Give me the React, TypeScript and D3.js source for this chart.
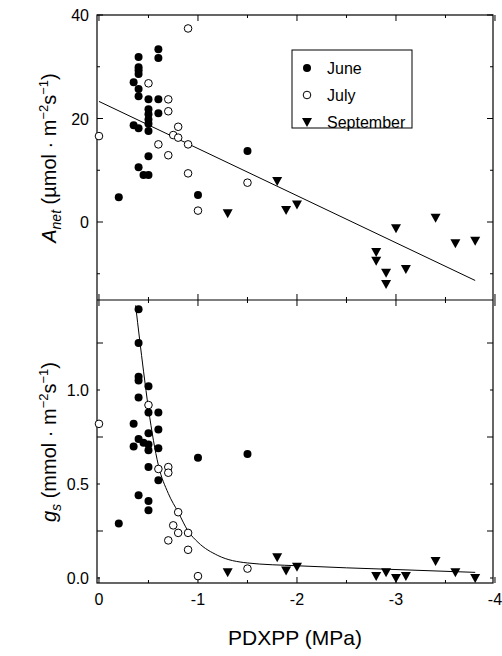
import React from "react";
import * as d3 from "d3";

// PDXPP (MPa), A_net, g_s per month
const juneX = [-0.4, -0.4, -0.4, -0.4, -0.35, -0.4, -0.4, -0.6, -0.6, -0.5, -0.6, -0.6, -0.5, -0.5, -0.5, -0.5, -0.35, -0.4, -0.5, -0.5, -0.4, -0.45, -0.5, -0.2, -1.0, -1.5];
const juneA = [31.9, 29.9, 29.3, 28.6, 27, 25.7, 24.3, 33.4, 31.7, 23.7, 23.7, 21, 21.8, 20.8, 19.8, 19, 18.7, 18.1, 17.6, 12.7, 10.6, 9.1, 9.1, 4.8, 5.2, 13.7];
const juneGx = [-0.4, -0.4, -0.4, -0.4, -0.5, -0.4, -0.5, -0.6, -0.35, -0.6, -0.5, -0.4, -0.45, -0.5, -0.35, -0.5, -0.6, -0.5, -0.6, -0.4, -0.5, -0.5, -0.2, -1.0, -1.5];
const juneG = [1.43, 1.25, 1.07, 1.05, 1.02, 0.96, 0.88, 0.88, 0.82, 0.79, 0.77, 0.74, 0.72, 0.71, 0.7, 0.68, 0.69, 0.59, 0.52, 0.44, 0.41, 0.36, 0.29, 0.64, 0.66];
const julyX = [-0.9, -0.5, -0.7, -0.7, -0.8, -0.75, -0.8, -0.9, -0.6, -0.7, 0, -0.9, -1.5, -1.0];
const julyA = [37.4, 26.8, 23.7, 21.4, 18.4, 16.8, 16.3, 15, 15, 12.9, 16.6, 9.4, 7.6, 2.2];
const julyGx = [0, -0.5, -0.7, -0.7, -0.6, -0.8, -0.75, -0.8, -0.9, -0.7, -0.9, -1.0, -1.5];
const julyG = [0.82, 0.92, 0.59, 0.56, 0.58, 0.35, 0.28, 0.24, 0.24, 0.2, 0.15, 0.01, 0.05];
const septX = [-1.3, -1.8, -1.89, -2.0, -3.0, -3.4, -3.6, -3.8, -2.8, -2.8, -2.9, -2.9, -3.1];
const septA = [1.7, 7.9, 2.3, 3.4, -1.2, 0.8, -4.1, -3.6, -5.8, -7.5, -9.8, -12, -9.1];
const septGx = [-1.3, -1.8, -1.89, -2.0, -2.8, -2.9, -3.0, -3.1, -3.4, -3.6, -3.8];
const septG = [0.03, 0.11, 0.04, 0.06, 0.01, 0.03, 0.0, 0.01, 0.09, 0.03, 0.0];
// fitted curves
const lineX = [0.0, -3.8];
const lineA = [23.3, -11.3];
const curveX = [-0.37, -0.45, -0.5, -0.6, -0.7, -0.8, -0.9, -1.0, -1.2, -1.5, -2.0, -3.0, -3.8];
const curveG = [1.45, 1.1, 0.9, 0.6, 0.45, 0.35, 0.25, 0.19, 0.12, 0.08, 0.065, 0.045, 0.03];

const L = 97, R = 493, T1 = 15, B1 = 300, B2 = 583;
const font = "Arial, 'Liberation Sans', sans-serif";

export default function App() {
  const x = d3.scaleLinear().domain([0.02, -3.98]).range([L, R]);
  const yA = d3.scaleLinear().domain([0, 40]).range([222, 15]);
  const yG = d3.scaleLinear().domain([0, 1]).range([578, 390]);
  const xt = d3.range(0, -4.01, -0.5);
  const filled = (xs, ys, y) => xs.map((v, i) => <circle key={i} cx={x(v)} cy={y(ys[i])} r={4} fill="#000" />);
  const open = (xs, ys, y) => xs.map((v, i) => <circle key={i} cx={x(v)} cy={y(ys[i])} r={3.8} fill="#fff" stroke="#000" strokeWidth={1} />);
  const tri = (xs, ys, y) => xs.map((v, i) => {
    const cx = x(v), cy = y(ys[i]);
    return <path key={i} d={`M${cx - 5},${cy - 4}L${cx + 5},${cy - 4}L${cx},${cy + 5}Z`} fill="#000" />;
  });
  const xTicks = (yy, dir) => xt.map((v, i) => {
    const len = i % 2 === 0 ? 6 : 3;
    return <line key={`${yy}${i}`} x1={x(v)} x2={x(v)} y1={yy} y2={yy + dir * len} stroke="#000" />;
  });
  const yTicks = (scale, vals) => vals.map((v, i) => {
    const len = i % 2 === 0 ? 6 : 3;
    return <g key={i}>
      <line x1={L} x2={L + len} y1={scale(v)} y2={scale(v)} stroke="#000" />
      <line x1={R} x2={R - len} y1={scale(v)} y2={scale(v)} stroke="#000" />
    </g>;
  });
  const aLine = d3.line().x((d, i) => x(lineX[i])).y((d, i) => yA(lineA[i]));
  const gLine = d3.line().x((d, i) => x(curveX[i])).y((d, i) => yG(curveG[i])).curve(d3.curveMonotoneX);
  return (
    <svg width={502} height={656} style={{ position: "absolute", left: 0, top: 0, background: "#fff" }} fontFamily={font}>
      <rect x={L} y={T1} width={R - L} height={B2 - T1} fill="none" stroke="#000" strokeWidth={1.2} />
      <line x1={L} x2={R} y1={B1} y2={B1} stroke="#000" strokeWidth={1.2} />
      {xTicks(T1, 1)}{xTicks(B1, -1)}{xTicks(B1, 1)}{xTicks(B2, -1)}
      {yTicks(yA, [40, 30, 20, 10, 0, -10])}
      {yTicks(yG, [1.5, 1.25, 1.0, 0.75, 0.5, 0.25, 0].filter(v => v < 1.48))}
      {[40, 20, 0].map(v => <text key={v} x={L - 8} y={yA(v) + 6} textAnchor="end" fontSize={16}>{v}</text>)}
      {[1.0, 0.5, 0.0].map(v => <text key={v} x={L - 8} y={yG(v) + 6} textAnchor="end" fontSize={16}>{v.toFixed(1)}</text>)}
      {[0, -1, -2, -3, -4].map(v => <text key={v} x={x(v)} y={B2 + 22} textAnchor="middle" fontSize={16}>{v}</text>)}
      <path d={aLine(lineX)} fill="none" stroke="#000" strokeWidth={1} />
      <path d={gLine(curveX)} fill="none" stroke="#000" strokeWidth={1} />
      {open(julyX, julyA, yA)}{filled(juneX, juneA, yA)}{tri(septX, septA, yA)}
      {open(julyGx, julyG, yG)}{filled(juneGx, juneG, yG)}{tri(septGx, septG, yG)}
      <rect x={292} y={50} width={120} height={78} fill="#fff" stroke="#000" />
      <circle cx={307} cy={68} r={4} fill="#000" />
      <text x={327} y={74} fontSize={16}>June</text>
      <circle cx={307} cy={95} r={3.8} fill="#fff" stroke="#000" />
      <text x={327} y={101} fontSize={16}>July</text>
      <path d="M302,118L312,118L307,127Z" fill="#000" />
      <text x={327} y={128} fontSize={16}>September</text>
      <text transform="translate(56,158) rotate(-90)" textAnchor="middle" fontSize={20}>
        <tspan fontStyle="italic">A</tspan><tspan fontStyle="italic" fontSize={14} dy={5}>net</tspan>
        <tspan dy={-5}> (µmol · m</tspan><tspan fontSize={13} dy={-8}>−2</tspan><tspan dy={8}>s</tspan><tspan fontSize={13} dy={-8}>−1</tspan><tspan dy={8}>)</tspan>
      </text>
      <text transform="translate(56,442) rotate(-90)" textAnchor="middle" fontSize={20}>
        <tspan fontStyle="italic">g</tspan><tspan fontStyle="italic" fontSize={14} dy={5}>s</tspan>
        <tspan dy={-5}> (mmol · m</tspan><tspan fontSize={13} dy={-8}>−2</tspan><tspan dy={8}>s</tspan><tspan fontSize={13} dy={-8}>−1</tspan><tspan dy={8}>)</tspan>
      </text>
      <text x={295} y={645} textAnchor="middle" fontSize={21}>PDXPP (MPa)</text>
    </svg>
  );
}
